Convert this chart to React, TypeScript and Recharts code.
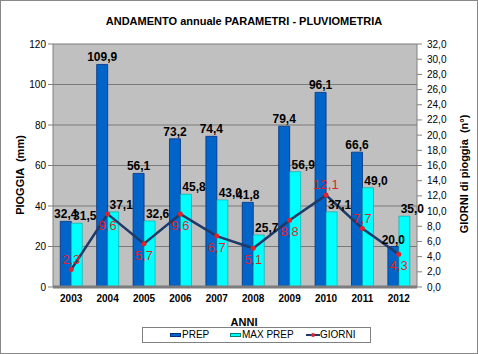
import {
  ComposedChart,
  Bar,
  Line,
  XAxis,
  YAxis,
  CartesianGrid,
  LabelList,
  Legend,
  ReferenceLine,
} from "recharts";

const anni = ["2003", "2004", "2005", "2006", "2007", "2008", "2009", "2010", "2011", "2012"];
const prep = [32.4, 109.9, 56.1, 73.2, 74.4, 41.8, 79.4, 96.1, 66.6, 20.0];
const maxPrep = [31.5, 37.1, 32.6, 45.8, 43.0, 25.7, 56.9, 37.1, 49.0, 35.0];
const giorni = [2.3, 9.6, 5.7, 9.6, 6.7, 5.1, 8.8, 12.1, 7.7, 4.3];

const mmTicks = [0, 20, 40, 60, 80, 100, 120];
const giorniTicks = [0, 2, 4, 6, 8, 10, 12, 14, 16, 18, 20, 22, 24, 26, 28, 30, 32];

// anni in cui l'etichetta rossa sta sopra il punto
const giorniLabelAbove = ["2003", "2010", "2011"];

const data = anni.map((anno, i) => ({
  anno,
  prep: prep[i],
  maxPrep: maxPrep[i],
  giorni: giorni[i],
}));

const FONT = "'Liberation Sans', Arial, sans-serif";
const fmt = (v: number) => Number(v).toFixed(1).replace(".", ",");

function MaxPrepLabel(props: any) {
  const { x, y, width, value } = props;
  return (
    <text x={x + width / 2 + 8} y={y - 3} textAnchor="middle" fontSize={12} fontWeight="bold" fill="#000" fontFamily={FONT}>
      {fmt(value)}
    </text>
  );
}

function GiorniLabel(props: any) {
  const { x, y, value, index } = props;
  const above = giorniLabelAbove.includes(anni[index]);
  return (
    <text x={x} y={above ? y - 6 : y + 16} textAnchor="middle" fontSize={13} fill="#E41E28" fontFamily={FONT}>
      {fmt(value)}
    </text>
  );
}

function LegendBox() {
  return (
    <div
      style={{
        width: 229,
        height: 16,
        border: "1px solid #808080",
        boxSizing: "border-box",
        position: "relative",
        fontFamily: FONT,
        fontSize: 10,
        color: "#000",
        background: "#fff",
      }}
    >
      <span style={{ position: "absolute", left: 27, top: 5, width: 11, height: 4, background: "#0064C8", border: "1px solid #003080", boxSizing: "border-box" }} />
      <span style={{ position: "absolute", left: 39, top: 1, lineHeight: "12px" }}>PREP</span>
      <span style={{ position: "absolute", left: 87, top: 5, width: 11, height: 4, background: "#00FFFF", border: "1px solid #008080", boxSizing: "border-box" }} />
      <span style={{ position: "absolute", left: 99, top: 1, lineHeight: "12px" }}>MAX PREP</span>
      <span style={{ position: "absolute", left: 163, top: 6, width: 14, height: 2, background: "#1F3A68" }} />
      <span style={{ position: "absolute", left: 168, top: 5, width: 4, height: 4, borderRadius: 2, background: "#E0202A" }} />
      <span style={{ position: "absolute", left: 177, top: 1, lineHeight: "12px" }}>GIORNI</span>
    </div>
  );
}

export default function App() {
  return (
    <div
      style={{
        position: "absolute",
        left: 0,
        top: 0,
        width: 478,
        height: 354,
        background: "#fff",
        border: "1px solid #888",
        boxSizing: "border-box",
      }}
    >
      <div
        style={{
          position: "absolute",
          left: 4,
          top: 14,
          width: 478,
          textAlign: "center",
          fontFamily: FONT,
          fontSize: 11,
          fontWeight: "bold",
          zIndex: 2,
        }}
      >
        ANDAMENTO annuale PARAMETRI - PLUVIOMETRIA
      </div>
      <div style={{ position: "absolute", left: -1, top: -1 }}>
        <ComposedChart
          width={478}
          height={354}
          data={data}
          margin={{ top: 44, right: 0, bottom: 11, left: 0 }}
          barGap={0}
          barCategoryGap="20%"
          style={{ fontFamily: FONT }}
        >
          <CartesianGrid yAxisId="left" vertical={false} fill="#C0C0C0" stroke="#7A7A7A" fillOpacity={1} />
          <XAxis
            dataKey="anno"
            height={40}
            tickLine={false}
            axisLine={{ stroke: "#808080" }}
            tick={{ fontSize: 10, fontWeight: "bold", fill: "#000" }}
            label={{
              content: () => (
                <text x={244} y={326} textAnchor="middle" fontSize={11} fontWeight="bold" fill="#000" fontFamily={FONT}>
                  ANNI
                </text>
              ),
            }}
          />
          <YAxis
            yAxisId="left"
            width={53}
            domain={[0, 120]}
            ticks={mmTicks}
            tickSize={5}
            tickMargin={2}
            axisLine={{ stroke: "#808080" }}
            tickLine={{ stroke: "#808080" }}
            tick={{ fontSize: 10, fill: "#000" }}
            label={{
              content: () => (
                <text
                  x={20}
                  y={175}
                  transform="rotate(-90 20 175)"
                  textAnchor="middle"
                  dominantBaseline="central"
                  fontSize={11}
                  fontWeight="bold"
                  fill="#000"
                  fontFamily={FONT}
                  style={{ whiteSpace: "pre" }}
                >
                  PIOGGIA  (mm)
                </text>
              ),
            }}
          />
          <YAxis
            yAxisId="right"
            orientation="right"
            width={61}
            domain={[0, 32]}
            ticks={giorniTicks}
            interval={0}
            tickFormatter={fmt}
            tickSize={5}
            tickMargin={5}
            axisLine={{ stroke: "#808080" }}
            tickLine={{ stroke: "#808080" }}
            tick={{ fontSize: 10, fill: "#000" }}
            label={{
              content: () => (
                <text
                  x={464}
                  y={174}
                  transform="rotate(-90 464 174)"
                  textAnchor="middle"
                  dominantBaseline="central"
                  fontSize={11}
                  fontWeight="bold"
                  fill="#000"
                  fontFamily={FONT}
                  style={{ whiteSpace: "pre" }}
                >
                  GIORNI di pioggia  (n°)
                </text>
              ),
            }}
          />
          <Legend
            verticalAlign="bottom"
            align="left"
            wrapperStyle={{ left: 142, width: 229 }}
            content={() => <LegendBox />}
          />
          <ReferenceLine yAxisId="left" y={0} stroke="#7A7A7A" strokeWidth={3} />
          <Bar yAxisId="left" dataKey="prep" name="PREP" fill="#0064C8" stroke="#003080" strokeWidth={0.8} isAnimationActive={false}>
            <LabelList dataKey="prep" position="top" offset={3} formatter={fmt} fontSize={12} fontWeight="bold" fill="#000" />
          </Bar>
          <Bar yAxisId="left" dataKey="maxPrep" name="MAX PREP" fill="#00FFFF" stroke="#00A0A0" strokeWidth={0.6} isAnimationActive={false}>
            <LabelList dataKey="maxPrep" content={<MaxPrepLabel />} />
          </Bar>
          <Line
            yAxisId="right"
            type="linear"
            dataKey="giorni"
            name="GIORNI"
            stroke="#1F3A68"
            strokeWidth={2.5}
            dot={{ r: 2.5, fill: "#E0202A", stroke: "#E0202A", strokeWidth: 0 }}
            isAnimationActive={false}
          >
            <LabelList dataKey="giorni" content={<GiorniLabel />} />
          </Line>
        </ComposedChart>
      </div>
    </div>
  );
}
